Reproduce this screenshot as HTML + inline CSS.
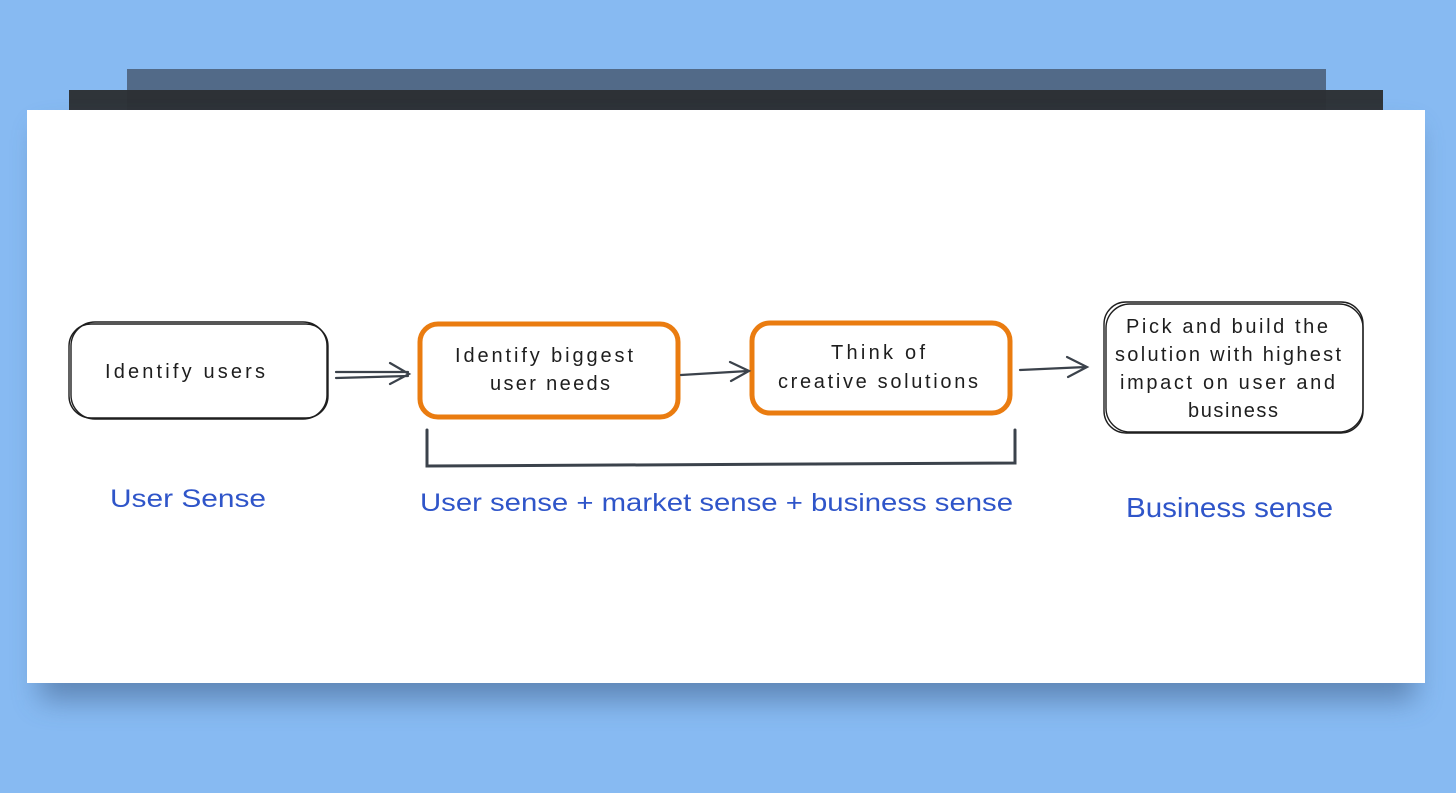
<!DOCTYPE html>
<html><head><style>
html,body{margin:0;padding:0;width:1456px;height:793px;overflow:hidden;background:#87baf2;}
</style></head><body>
<svg width="1456" height="793" xmlns="http://www.w3.org/2000/svg" style="position:absolute;left:0;top:0">
<defs>
<filter id="sh" x="-10%" y="-10%" width="120%" height="140%"><feGaussianBlur stdDeviation="14"/></filter>
</defs>
<rect x="127" y="69" width="1199" height="22" fill="#526a88"/>
<rect x="69" y="90" width="1314" height="21" fill="#2f3439"/>
<rect x="127" y="90" width="1199" height="21" fill="#2d3136"/>
<rect x="40" y="130" width="1375" height="570" fill="#3d5c85" opacity="0.55" filter="url(#sh)"/>
<rect x="27" y="110" width="1398" height="573" fill="#ffffff"/>
<g fill="none" stroke="#1e1e1e" stroke-width="1.4">
<rect x="69" y="324" width="259" height="94" rx="22"/>
<rect x="71" y="322" width="256" height="97" rx="24"/>
<rect x="1106" y="304" width="257" height="128" rx="24"/>
<rect x="1104" y="302" width="259" height="131" rx="22"/>
</g>
<g fill="none" stroke="#ea7c10" stroke-width="5">
<rect x="420" y="324" width="258" height="93" rx="18"/>
<rect x="752" y="323" width="258" height="90" rx="18"/>
</g>
<g fill="none" stroke="#3b424b" stroke-width="2.2" stroke-linecap="round">
<path d="M336 372 L408 372 M336 378 L408 376 M390 363 L409 374 L390 384"/>
<path d="M681 375 L748 371 M730 362 L749 371 L731 381"/>
<path d="M1020 370 L1086 367 M1067 357 L1087 367 L1068 377"/>
<path d="M427 430 L427 466 L1015 463 L1015 430" stroke-width="3"/>
</g>
<g font-family="Liberation Sans, sans-serif" fill="#1e1e1e" font-size="20" lengthAdjust="spacingAndGlyphs">
<text x="105" y="378" textLength="160">Identify users</text>
<text x="455" y="362" textLength="178">Identify biggest</text>
<text x="490" y="390" textLength="120">user needs</text>
<text x="831" y="359" textLength="94">Think of</text>
<text x="778" y="388" textLength="200">creative solutions</text>
<text x="1126" y="333" textLength="202">Pick and build the</text>
<text x="1115" y="361" textLength="226">solution with highest</text>
<text x="1120" y="389" textLength="215">impact on user and</text>
<text x="1188" y="417" textLength="90">business</text>
</g>
<g font-family="Liberation Sans, sans-serif" fill="#2f55c9" font-size="25">
<text x="110" y="507" textLength="156" lengthAdjust="spacingAndGlyphs">User Sense</text>
<text x="420" y="511" textLength="593" lengthAdjust="spacingAndGlyphs">User sense + market sense + business sense</text>
<text x="1126" y="517" font-size="28" textLength="207" lengthAdjust="spacingAndGlyphs">Business sense</text>
</g>
</svg>
</body></html>
